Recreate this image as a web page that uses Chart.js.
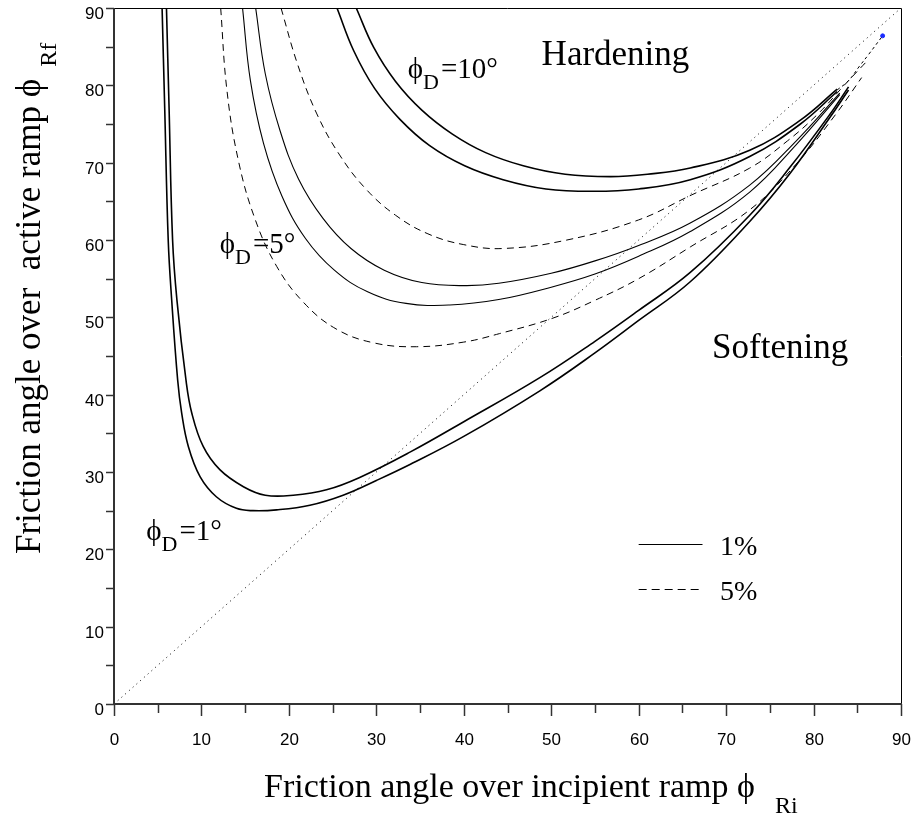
<!DOCTYPE html>
<html>
<head>
<meta charset="utf-8">
<script src="https://cdn.jsdelivr.net/npm/chart.js@4/dist/chart.umd.min.js"></script>
<style>
  html, body { margin: 0; padding: 0; background: #fff; }
  #contenedor { width: 916px; height: 820px; }
</style>
</head>
<body>
<div id="contenedor"><canvas id="grafica"></canvas></div>
<script>
// ticks de los ejes (grados)
const ticksX = [0, 5, 10, 15, 20, 25, 30, 35, 40, 45, 50, 55, 60, 65, 70, 75, 80, 85, 90];
const ticksY = [0, 5, 10, 15, 20, 25, 30, 35, 40, 45, 50, 55, 60, 65, 70, 75, 80, 85, 90];

// phi_D = 1 deg, 1 %  (dos curvas)
const d1aX = [5.5, 5.8, 6.2, 6.6, 7.28, 7.74, 8.5, 9.84, 11.7, 14.0, 15.9, 18.6, 22.4, 26.2, 30.0, 33.9, 40, 48.7, 55, 60, 65.9, 72.7, 77.3, 81.9, 84.0];
const d1aY = [90, 77, 60, 52.2, 41.9, 37.6, 33.3, 29.4, 26.8, 25.3, 25.0, 25.1, 25.7, 27.0, 28.9, 31.0, 34.6, 40.5, 45.4, 49.6, 54.6, 62.4, 68.6, 75.9, 79.4];
const d1bX = [6.0, 6.3, 6.7, 7.2, 8.23, 8.9, 10.2, 12.1, 14.8, 17.3, 20.5, 24.3, 28.1, 33.9, 40, 48.7, 55, 60, 65.9, 72.7, 77.3, 81.9, 84.0];
const d1bY = [90, 77, 60, 52.2, 41.9, 37.6, 33.3, 30.3, 28.1, 27.0, 27.0, 27.7, 29.3, 32.6, 36.5, 42.2, 46.9, 50.9, 55.8, 63.2, 69.4, 76.3, 79.8];

// phi_D = 5 deg, 1 %
const d5aX = [14.7, 15.6, 17.1, 19.2, 21.9, 25.2, 29.0, 33.4, 38.4, 44, 50, 55, 60, 65.9, 72.7, 78, 83.0];
const d5aY = [90, 80.6, 72.5, 65.7, 60.2, 56.1, 53.3, 51.8, 51.6, 52.3, 53.9, 55.6, 57.9, 61.1, 66.2, 72.3, 78.8];
const d5bX = [16.2, 17.3, 19.0, 21.1, 23.9, 27.1, 30.9, 35.2, 40.1, 44, 50, 55, 60, 65.9, 72.7, 78, 83.0];
const d5bY = [90, 81.5, 74.1, 67.9, 62.8, 58.9, 56.1, 54.5, 54.1, 54.4, 55.7, 57.3, 59.3, 62.2, 67.1, 72.8, 79.0];

// 5 % (discontinuas)
const p5aX = [12.2, 12.9, 14.2, 16.1, 18.6, 21.7, 25.4, 29.7, 34.6, 40, 44.1, 50.2, 55, 60, 65.9, 72.7, 78, 82.5, 85.5];
const p5aY = [90, 79.5, 70.4, 62.8, 56.6, 51.9, 48.5, 46.7, 46.2, 46.8, 47.9, 49.9, 52.2, 55.0, 59.1, 63.9, 69.8, 76.2, 81];
const p5bX = [19.1, 21.0, 23.2, 25.8, 28.8, 32.2, 35.9, 40.0, 44.5, 51.8, 60, 66, 72.7, 77, 80.5, 83.5, 86];
const p5bY = [90, 82.7, 76.3, 71.0, 66.6, 63.2, 60.8, 59.4, 58.9, 60.0, 62.6, 65.8, 69.3, 72.8, 76.3, 80, 83];

// phi_D = 10 deg, 1 %
const d10aX = [25.5, 27.4, 29.8, 32.7, 36.1, 40.1, 44.5, 49.4, 54.8, 60, 65.9, 72.7, 78.5, 82.7];
const d10aY = [90, 84.5, 79.6, 75.6, 72.2, 69.6, 67.8, 66.6, 66.3, 66.6, 67.8, 70.8, 75.0, 79.2];
const d10bX = [27.7, 29.7, 32.2, 35.2, 38.7, 42.5, 46.8, 51.6, 56.8, 61, 65.9, 72.7, 78.5, 82.7];
const d10bY = [90, 84.9, 80.5, 76.8, 73.7, 71.3, 69.6, 68.5, 68.2, 68.5, 69.3, 71.6, 75.5, 79.5];

// cola final de las curvas, diagonal y punto final
const colaX = [82.7, 84.0, 85.2, 86.3, 87.9];
const colaY = [79.4, 80.6, 82.4, 84.0, 86.4];
const diagX = [0, 90];
const diagY = [0, 90];
const finX = [87.9];
const finY = [86.4];

function puntos(xs, ys) {
    return xs.map((x, i) => ({ x: x, y: ys[i] }));
}

function curva(xs, ys, ancho, trazo) {
    return {
        data: puntos(xs, ys),
        showLine: true,
        borderColor: "#000",
        borderWidth: ancho,
        borderDash: trazo || [],
        pointRadius: 0,
        tension: 0.4,
        fill: false
    };
}

const serif = "'Liberation Serif', 'Times New Roman', serif";
const sans = "'Liberation Sans', Arial, sans-serif";

// texto con phi y subindice
function textoPhi(ctx, x, y, tam, sub, resto) {
    ctx.font = tam + "px " + serif;
    ctx.fillText("\u03D5", x, y);
    let w = ctx.measureText("\u03D5").width;
    ctx.font = Math.round(tam * 0.75) + "px " + serif;
    ctx.fillText(sub, x + w, y + tam * 0.38);
    w += ctx.measureText(sub).width;
    ctx.font = tam + "px " + serif;
    ctx.fillText(resto, x + w + 2, y);
}

const marco = {
    id: "marco",
    afterDraw(chart) {
        const ctx = chart.ctx;
        const a = chart.chartArea;
        const sx = chart.scales.x;
        const sy = chart.scales.y;
        ctx.save();

        // borde superior y derecho
        ctx.strokeStyle = "#000";
        ctx.lineWidth = 1;
        ctx.beginPath();
        ctx.moveTo(a.left, a.top + 0.5);
        ctx.lineTo(a.right + 0.5, a.top + 0.5);
        ctx.lineTo(a.right + 0.5, a.bottom);
        ctx.stroke();

        // ejes
        ctx.strokeStyle = "#333";
        ctx.lineWidth = 2;
        ctx.beginPath();
        ctx.moveTo(a.left, a.top);
        ctx.lineTo(a.left, a.bottom);
        ctx.lineTo(a.right + 1, a.bottom);
        ctx.stroke();

        ctx.lineWidth = 1.5;
        ctx.fillStyle = "#000";
        ctx.font = "17px " + sans;
        ticksX.forEach(v => {
            const px = Math.round(sx.getPixelForValue(v)) + 0.5;
            const largo = v % 10 === 0 ? 12 : 9;
            ctx.beginPath();
            ctx.moveTo(px, a.bottom);
            ctx.lineTo(px, a.bottom + largo);
            ctx.stroke();
            if (v % 10 === 0) {
                ctx.textAlign = "center";
                ctx.textBaseline = "middle";
                ctx.fillText(String(v), px, a.bottom + 36);
            }
        });
        ticksY.forEach(v => {
            const py = Math.round(sy.getPixelForValue(v)) + 0.5;
            ctx.beginPath();
            ctx.moveTo(a.left, py);
            ctx.lineTo(a.left - 8, py);
            ctx.stroke();
            if (v % 10 === 0) {
                ctx.textAlign = "right";
                ctx.textBaseline = "middle";
                ctx.fillText(String(v), a.left - 10, py + 6);
            }
        });

        // titulos de los ejes
        ctx.textAlign = "left";
        ctx.textBaseline = "alphabetic";
        ctx.font = "34px " + serif;
        const tx = "Friction angle over incipient ramp \u03D5";
        ctx.fillText(tx, 264, 797);
        let w = ctx.measureText(tx).width;
        ctx.font = "24px " + serif;
        ctx.fillText("Ri", 264 + w + 20, 813);

        ctx.save();
        ctx.translate(40, 554);
        ctx.rotate(-Math.PI / 2);
        ctx.font = "35px " + serif;
        const ty = "Friction angle over  active ramp \u03D5";
        ctx.fillText(ty, 0, 0);
        w = ctx.measureText(ty).width;
        ctx.font = "24px " + serif;
        ctx.fillText("Rf", w + 12, 16);
        ctx.restore();

        // rotulos dentro del grafico
        ctx.font = "35px " + serif;
        ctx.fillText("Hardening", sx.getPixelForValue(48.9), sy.getPixelForValue(82.6));
        ctx.fillText("Softening", sx.getPixelForValue(68.4), sy.getPixelForValue(44.7));

        textoPhi(ctx, sx.getPixelForValue(33.6), sy.getPixelForValue(81.0), 29, "D", "=10\u00B0");
        textoPhi(ctx, sx.getPixelForValue(12.1), sy.getPixelForValue(58.3), 29, "D", "=5\u00B0");
        textoPhi(ctx, sx.getPixelForValue(3.7), sy.getPixelForValue(21.2), 29, "D", "=1\u00B0");

        // leyenda
        const lx0 = sx.getPixelForValue(60.0), lx1 = sx.getPixelForValue(67.3);
        ctx.lineWidth = 1;
        ctx.strokeStyle = "#000";
        ctx.beginPath();
        ctx.moveTo(lx0, 544.5);
        ctx.lineTo(lx1, 544.5);
        ctx.stroke();
        ctx.setLineDash([8, 5]);
        ctx.beginPath();
        ctx.moveTo(lx0, 589.5);
        ctx.lineTo(lx1, 589.5);
        ctx.stroke();
        ctx.setLineDash([]);
        ctx.font = "28px " + serif;
        ctx.fillText("1%", sx.getPixelForValue(69.3), 555);
        ctx.fillText("5%", sx.getPixelForValue(69.3), 600);

        ctx.restore();
    }
};

new Chart(document.getElementById("grafica").getContext("2d"), {
    type: "scatter",
    data: {
        datasets: [
            {
                data: puntos(diagX, diagY),
                showLine: true,
                borderColor: "#000",
                borderWidth: 1,
                borderDash: [1, 4],
                pointRadius: 0
            },
            curva(d1aX, d1aY, 1.6),
            curva(d1bX, d1bY, 1.6),
            curva(d5aX, d5aY, 1.1),
            curva(d5bX, d5bY, 1.1),
            curva(p5aX, p5aY, 1, [7, 5]),
            curva(p5bX, p5bY, 1, [7, 5]),
            curva(d10aX, d10aY, 1.6),
            curva(d10bX, d10bY, 1.6),
            curva(colaX, colaY, 1, [3, 3]),
            {
                data: puntos(finX, finY),
                pointRadius: 2,
                pointBackgroundColor: "#1a2cff",
                pointBorderColor: "#1a2cff"
            }
        ]
    },
    options: {
        responsive: true,
        maintainAspectRatio: false,
        animation: false,
        layout: { padding: { left: 114, right: 15, top: 8, bottom: 116 } },
        plugins: { legend: { display: false }, tooltip: { enabled: false } },
        scales: {
            x: { type: "linear", min: 0, max: 90, display: false },
            y: { type: "linear", min: 0, max: 90, display: false }
        }
    },
    plugins: [marco]
});
</script>
</body>
</html>
